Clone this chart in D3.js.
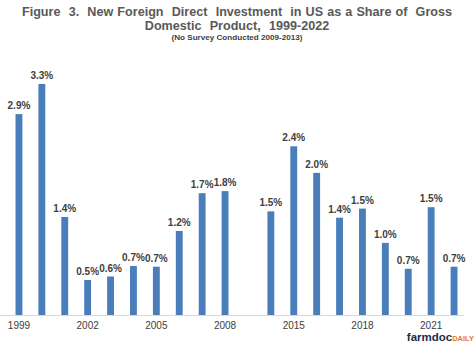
<!DOCTYPE html>
<html>
<head>
<meta charset="utf-8">
<script src="https://cdn.jsdelivr.net/npm/d3@7"></script>
<style>
  html, body { margin: 0; padding: 0; background: #fff; }
  svg { display: block; }
  text { font-family: "Liberation Sans", Arial, sans-serif; }
</style>
</head>
<body>
<svg id="chart" width="474" height="344"></svg>
<script>
// ---- data ----
const categories = ["1999","2000","2001","2002","2003","2004","2005","2006","2007","2008","gap",
                    "2014","2015","2016","2017","2018","2019","2020","2021","2022"];
const values = [2.87, 3.30, 1.40, 0.50, 0.55, 0.70, 0.69, 1.20, 1.74, 1.77, null,
                1.48, 2.41, 2.03, 1.39, 1.52, 1.03, 0.66, 1.54, 0.69];
const tickLabels = ["1999","2002","2005","2008","2015","2018","2021"];
const titleLines = ["Figure  3.  New Foreign  Direct  Investment  in US as a Share of  Gross",
                    "Domestic  Product,  1999-2022"];
const subtitle = "(No Survey Conducted 2009-2013)";

const svg = d3.select("#chart");
const baseY = 315;

const x = d3.scaleBand()
  .domain(categories)
  .range([7.5, 465.5])
  .paddingInner(0.7)
  .paddingOuter(0.35);

const y = d3.scaleLinear().domain([0, 3.5]).range([baseY, 70]);

// title
svg.append("g").selectAll("text").data(titleLines).join("text")
  .attr("x", 237).attr("y", (d, i) => 16.2 + i * 13.6)
  .attr("text-anchor", "middle")
  .attr("font-size", 12.6).attr("font-weight", "bold")
  .attr("fill", "#595959")
  .style("white-space", "pre")
  .style("word-spacing", "0.6px")
  .text(d => d);

svg.append("text")
  .attr("x", 237).attr("y", 39.9)
  .attr("text-anchor", "middle")
  .attr("font-size", 8.1).attr("font-weight", "bold")
  .attr("fill", "#404040")
  .text(subtitle);

const data = categories.map((c, i) => ({c, v: values[i]})).filter(d => d.v != null);

// bars
svg.append("g").selectAll("rect").data(data).join("rect")
  .attr("x", d => x(d.c))
  .attr("width", x.bandwidth())
  .attr("y", d => y(d.v))
  .attr("height", d => baseY - y(d.v))
  .attr("fill", "#4A7EBB");

// labels
const fmt = d3.format(".1f");
svg.append("g").selectAll("text").data(data).join("text")
  .attr("x", d => x(d.c) + x.bandwidth() / 2)
  .attr("y", d => y(d.v) - 5)
  .attr("text-anchor", "middle")
  .attr("font-size", 10).attr("font-weight", "bold")
  .attr("fill", "#404040")
  .text(d => fmt(d.v) + "%");

// axis
const axis = d3.axisBottom(x)
  .tickValues(tickLabels)
  .tickSize(0)
  .tickPadding(7);
const gAxis = svg.append("g").attr("transform", `translate(0,${baseY})`).call(axis);
gAxis.select(".domain").remove();
gAxis.selectAll("text")
  .attr("font-size", 10)
  .attr("font-family", "Liberation Sans, Arial, sans-serif")
  .attr("fill", "#404040");
gAxis.append("line")
  .attr("x1", 0).attr("x2", 464).attr("y1", 0.5).attr("y2", 0.5)
  .attr("stroke", "#D9D9D9").attr("stroke-width", 1);

// logo
const logo = svg.append("text")
  .attr("x", 474).attr("y", 341)
  .attr("text-anchor", "end")
  .attr("font-weight", "bold");
logo.append("tspan").attr("font-size", 11.5).attr("fill", "#1F2A4A").text("farmdoc");
logo.append("tspan").attr("font-size", 7.5).attr("fill", "#E8772E").text("DAILY");
</script>
</body>
</html>
